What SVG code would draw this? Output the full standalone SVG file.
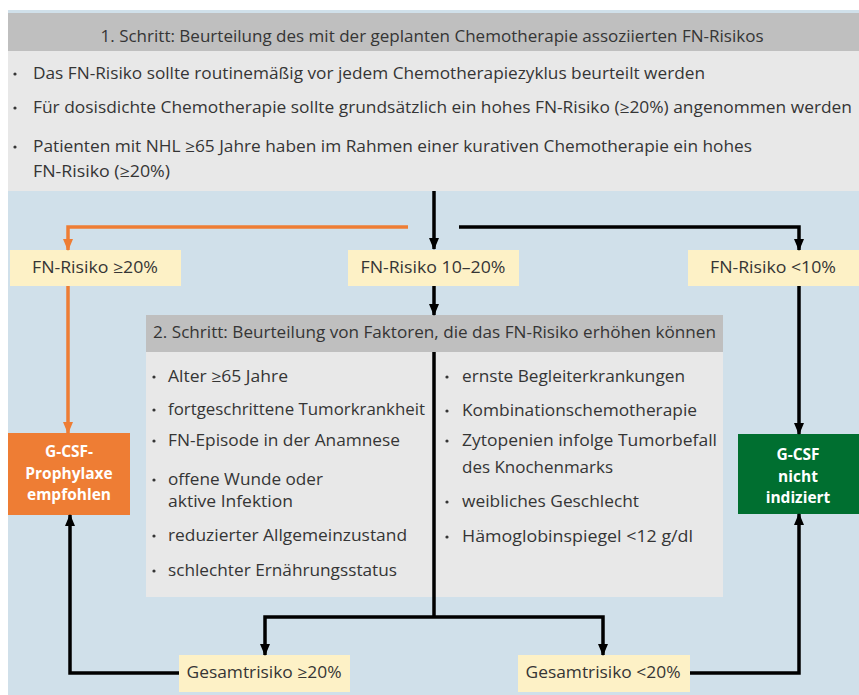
<svg xmlns="http://www.w3.org/2000/svg" width="859" height="695" viewBox="0 0 859 695">
<style>
  text { font-family: "Open Sans", "Liberation Sans", sans-serif; fill: #353535; }
  .t { font-size: 16px; }
  .h { font-size: 15.5px; }
  .c { text-anchor: middle; }
  .w { fill: #ffffff; font-weight: bold; font-size: 15.5px; text-anchor: middle; }
  .yel { fill: #fdf1c6; }
  .hdr { fill: #bfbfbf; }
  .body { fill: #e8e8e8; }
  .dot { fill: #353535; }
  .blk { stroke: #000; stroke-width: 3.5; fill: none; }
  .org { stroke: #ee7d34; stroke-width: 3.5; fill: none; }
</style>
<defs>
  <marker id="ab" viewBox="0 0 12 10" refX="11" refY="5" markerWidth="12" markerHeight="10" markerUnits="userSpaceOnUse" orient="auto">
    <path d="M0,0 L12,5 L0,10 z" fill="#000"/>
  </marker>
  <marker id="ao" viewBox="0 0 12 10" refX="11" refY="5" markerWidth="12" markerHeight="10" markerUnits="userSpaceOnUse" orient="auto">
    <path d="M0,0 L12,5 L0,10 z" fill="#ee7d34"/>
  </marker>
</defs>
<rect x="0" y="0" width="859" height="695" fill="#ffffff"/>
<rect x="8" y="10" width="851" height="685" fill="#d0e0ea"/>

<g id="step1">
  <rect class="hdr" x="8" y="13" width="851" height="38"/>
  <rect class="body" x="8" y="51" width="851" height="140"/>
  <text class="h c" x="432" y="42" textLength="663" lengthAdjust="spacingAndGlyphs">1. Schritt: Beurteilung des mit der geplanten Chemotherapie assoziierten FN-Risikos</text>
  <circle class="dot" cx="15" cy="74" r="1.6"/>
  <text class="t" x="33" y="79" textLength="672" lengthAdjust="spacingAndGlyphs">Das FN-Risiko sollte routinemäßig vor jedem Chemotherapiezyklus beurteilt werden</text>
  <circle class="dot" cx="15" cy="108" r="1.6"/>
  <text class="t" x="33" y="113" textLength="819" lengthAdjust="spacingAndGlyphs">Für dosisdichte Chemotherapie sollte grundsätzlich ein hohes FN-Risiko (≥20%) angenommen werden</text>
  <circle class="dot" cx="15" cy="147" r="1.6"/>
  <text class="t" x="33" y="152" textLength="719" lengthAdjust="spacingAndGlyphs">Patienten mit NHL ≥65 Jahre haben im Rahmen einer kurativen Chemotherapie ein hohes</text>
  <text class="t" x="33" y="177" textLength="137" lengthAdjust="spacingAndGlyphs">FN-Risiko (≥20%)</text>
</g>

<g id="risk-high">
  <rect class="yel" x="10" y="250" width="171" height="36"/>
  <text class="t c" x="95" y="273" textLength="126" lengthAdjust="spacingAndGlyphs">FN-Risiko ≥20%</text>
</g>
<g id="risk-mid">
  <rect class="yel" x="348" y="250" width="171" height="36"/>
  <text class="t c" x="433" y="273" textLength="145" lengthAdjust="spacingAndGlyphs">FN-Risiko 10–20%</text>
</g>
<g id="risk-low">
  <rect class="yel" x="688" y="250" width="171" height="36"/>
  <text class="t c" x="773" y="273" textLength="126" lengthAdjust="spacingAndGlyphs">FN-Risiko &lt;10%</text>
</g>

<g id="step2">
  <rect class="hdr" x="146" y="315" width="577" height="37"/>
  <rect class="body" x="146" y="352" width="577" height="245"/>
  <text class="h" x="153" y="338" textLength="563" lengthAdjust="spacingAndGlyphs">2. Schritt: Beurteilung von Faktoren, die das FN-Risiko erhöhen können</text>
  <circle class="dot" cx="154" cy="377" r="1.6"/>
  <text class="t" x="168" y="382" textLength="120" lengthAdjust="spacingAndGlyphs">Alter ≥65 Jahre</text>
  <circle class="dot" cx="154" cy="410" r="1.6"/>
  <text class="t" x="168" y="415" textLength="257" lengthAdjust="spacingAndGlyphs">fortgeschrittene Tumorkrankheit</text>
  <circle class="dot" cx="154" cy="441" r="1.6"/>
  <text class="t" x="168" y="446" textLength="232" lengthAdjust="spacingAndGlyphs">FN-Episode in der Anamnese</text>
  <circle class="dot" cx="154" cy="480" r="1.6"/>
  <text class="t" x="168" y="485" textLength="155" lengthAdjust="spacingAndGlyphs">offene Wunde oder</text>
  <text class="t" x="168" y="507" textLength="125" lengthAdjust="spacingAndGlyphs">aktive Infektion</text>
  <circle class="dot" cx="154" cy="536" r="1.6"/>
  <text class="t" x="168" y="541" textLength="239" lengthAdjust="spacingAndGlyphs">reduzierter Allgemeinzustand</text>
  <circle class="dot" cx="154" cy="571" r="1.6"/>
  <text class="t" x="168" y="576" textLength="229" lengthAdjust="spacingAndGlyphs">schlechter Ernährungsstatus</text>
  <circle class="dot" cx="447" cy="377" r="1.6"/>
  <text class="t" x="462" y="382" textLength="223" lengthAdjust="spacingAndGlyphs">ernste Begleiterkrankungen</text>
  <circle class="dot" cx="447" cy="411" r="1.6"/>
  <text class="t" x="462" y="416" textLength="235" lengthAdjust="spacingAndGlyphs">Kombinationschemotherapie</text>
  <circle class="dot" cx="447" cy="441" r="1.6"/>
  <text class="t" x="462" y="446" textLength="255" lengthAdjust="spacingAndGlyphs">Zytopenien infolge Tumorbefall</text>
  <text class="t" x="462" y="473" textLength="151" lengthAdjust="spacingAndGlyphs">des Knochenmarks</text>
  <circle class="dot" cx="447" cy="502" r="1.6"/>
  <text class="t" x="462" y="507" textLength="177" lengthAdjust="spacingAndGlyphs">weibliches Geschlecht</text>
  <circle class="dot" cx="447" cy="537" r="1.6"/>
  <text class="t" x="462" y="542" textLength="231" lengthAdjust="spacingAndGlyphs">Hämoglobinspiegel &lt;12 g/dl</text>
</g>

<g id="gcsf-yes">
  <rect x="8" y="433" width="122" height="82" fill="#ee7d34"/>
  <text class="w" x="69" y="457">G-CSF-</text>
  <text class="w" x="69" y="479">Prophylaxe</text>
  <text class="w" x="69" y="500">empfohlen</text>
</g>
<g id="gcsf-no">
  <rect x="738" y="434" width="121" height="80" fill="#006f30"/>
  <text class="w" x="798" y="460">G-CSF</text>
  <text class="w" x="798" y="482">nicht</text>
  <text class="w" x="798" y="503">indiziert</text>
</g>

<g id="total-high">
  <rect class="yel" x="179" y="655" width="171" height="37"/>
  <text class="t c" x="264" y="678" textLength="155" lengthAdjust="spacingAndGlyphs">Gesamtrisiko ≥20%</text>
</g>
<g id="total-low">
  <rect class="yel" x="518" y="655" width="172" height="37"/>
  <text class="t c" x="603" y="678" textLength="155" lengthAdjust="spacingAndGlyphs">Gesamtrisiko &lt;20%</text>
</g>

<g id="connectors">
  <path class="blk" d="M434,191 V249" marker-end="url(#ab)"/>
  <path class="org" d="M408,227 H68 V250" marker-end="url(#ao)"/>
  <path class="blk" d="M459,227 H799 V250" marker-end="url(#ab)"/>
  <path class="blk" d="M434,286 V315" marker-end="url(#ab)"/>
  <path class="org" d="M68,286 V433" marker-end="url(#ao)"/>
  <path class="blk" d="M799,286 V434" marker-end="url(#ab)"/>
  <path class="blk" d="M434,352 V617"/>
  <path class="blk" d="M434,617 H265 V655" marker-end="url(#ab)"/>
  <path class="blk" d="M434,617 H603 V655" marker-end="url(#ab)"/>
  <path class="blk" d="M179,673 H70 V515" marker-end="url(#ab)"/>
  <path class="blk" d="M690,673 H799 V514" marker-end="url(#ab)"/>
</g>
</svg>
